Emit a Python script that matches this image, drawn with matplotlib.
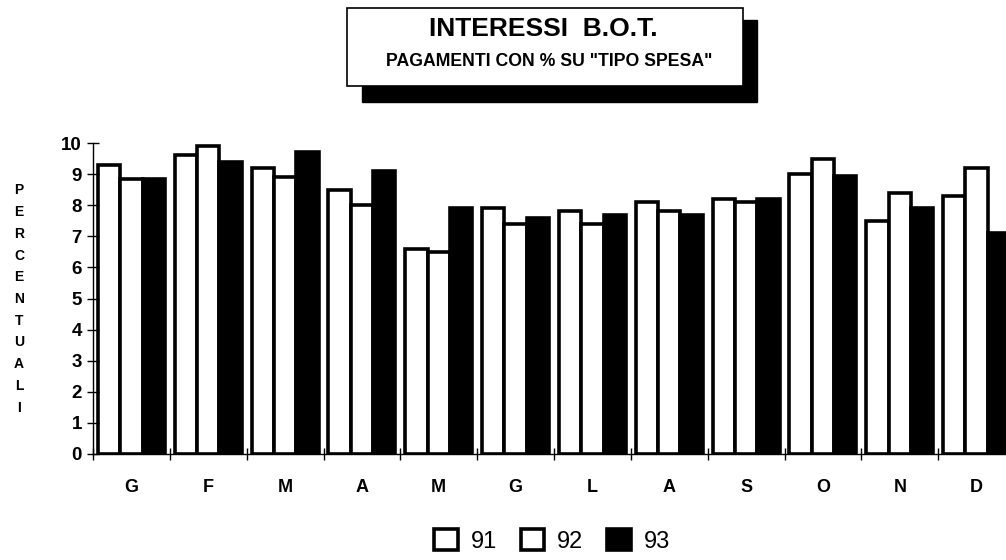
import matplotlib
matplotlib.use("Agg")
import matplotlib.pyplot as plt
import numpy as np
from matplotlib.patches import Rectangle

months = ["G", "F", "M", "A", "M", "G", "L", "A", "S", "O", "N", "D"]
s91 = [9.3, 9.6, 9.2, 8.5, 6.6, 7.9, 7.8, 8.1, 8.2, 9.0, 7.5, 8.3]
s92 = [8.85, 9.9, 8.9, 8.0, 6.5, 7.4, 7.4, 7.8, 8.1, 9.5, 8.4, 9.2]
s93 = [8.85, 9.4, 9.7, 9.1, 7.9, 7.6, 7.7, 7.7, 8.2, 8.95, 7.9, 7.1]
series_names = ["91", "92", "93"]
yticks = list(range(0, 11))
ylabel = "PERCENTUALI"
title = "INTERESSI  B.O.T."
subtitle = 'PAGAMENTI CON % SU "TIPO SPESA"'

W, H = 1006, 560
plt.rcParams['font.family'] = ['Liberation Sans', 'DejaVu Sans']
fig = plt.figure(figsize=(W / 100, H / 100), dpi=100)

def px(x0, y0, x1, y1):
    # image pixel box (top-down) -> figure fraction rect
    return [x0 / W, 1 - y1 / H, (x1 - x0) / W, (y1 - y0) / H]

ax = fig.add_axes(px(93, 143, 1015, 454))
x = np.arange(len(months))
bw = 0.29
lw = 2.6
b1 = ax.bar(x - bw, s91, bw, color="white", edgecolor="black", linewidth=lw, label=series_names[0])
b2 = ax.bar(x, s92, bw, color="white", edgecolor="black", linewidth=lw, label=series_names[1])
b3 = ax.bar(x + bw, s93, bw, color="black", edgecolor="black", linewidth=lw, label=series_names[2])

ax.set_xlim(-0.5, len(months) - 0.5)
ax.set_ylim(0, 10)
for sp in ["top", "right"]:
    ax.spines[sp].set_visible(False)
ax.spines["left"].set_linewidth(1.0)
ax.spines["bottom"].set_linewidth(1.0)

ax.set_yticks(yticks)
ax.set_yticklabels([str(v) for v in yticks], fontsize=13.5, fontweight="bold")
ax.tick_params(axis="y", direction="inout", length=8, width=1.0, pad=4)

ax.set_xticks(x)
ax.set_xticklabels(months, fontsize=13, fontweight="bold")
ax.tick_params(axis="x", which="major", length=0, pad=18)
ax.set_xticks(np.arange(len(months)) - 0.5, minor=True)
ax.tick_params(axis="x", which="minor", direction="inout", length=8, width=1.0)

# vertical stacked y label
fig.text(19 / W, 1 - 299 / H, "\n".join(ylabel), ha="center", va="center",
         fontsize=10, fontweight="bold", linespacing=1.7)

# title box with shadow
s = px(362, 20, 757, 102)
fig.add_artist(Rectangle(s[:2], s[2], s[3], transform=fig.transFigure,
                         facecolor="black", edgecolor="black", zorder=1))
r = px(347, 8, 743, 86)
fig.add_artist(Rectangle(r[:2], r[2], r[3], transform=fig.transFigure,
                         facecolor="white", edgecolor="black", linewidth=1.2, zorder=2))
fig.text(543 / W, 1 - 29 / H, title, ha="center", va="center", fontsize=19,
         fontweight="bold", zorder=3)
fig.text(549 / W, 1 - 61 / H, subtitle, ha="center", va="center", fontsize=12.7,
         fontweight="bold", zorder=3)

fig.legend(handles=[b1, b2, b3], labels=series_names, loc="center",
           bbox_to_anchor=(552 / W, 1 - 541 / H), ncol=3, frameon=False,
           fontsize=17, handlelength=1.0, handleheight=1.0, handletextpad=0.55,
           columnspacing=1.0)

fig.savefig("out.png", dpi=100)
